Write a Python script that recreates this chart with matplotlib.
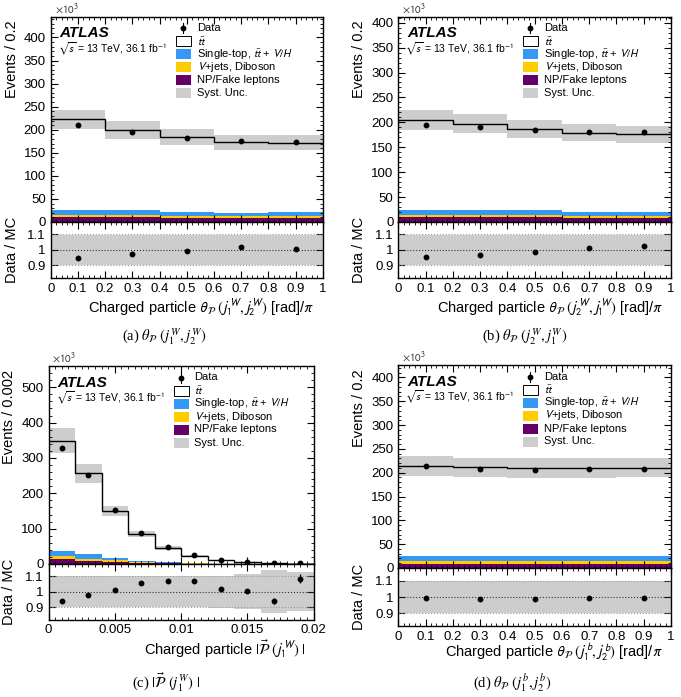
import numpy as np
import matplotlib
matplotlib.use("Agg")
import matplotlib.pyplot as plt
from matplotlib.patches import Rectangle
from matplotlib.ticker import MultipleLocator, FuncFormatter

plt.rcParams['font.family'] = ['Liberation Sans', 'DejaVu Sans']
plt.rcParams['mathtext.fontset'] = 'stixsans'

W, H = 681, 697

# ---- (a) theta_P(j1W, j2W) ----
a_edges = [0.0, 0.2, 0.4, 0.6, 0.8, 1.0]
a_ttbar = [195.9, 174.8, 162.6, 153.0, 150.2]
a_stop = [10.7, 10.0, 7.8, 7.1, 7.8]
a_vjets = [5.0, 5.0, 4.3, 3.6, 4.3]
a_fake = [10.7, 10.0, 9.3, 9.3, 9.3]
a_data = [210.6, 194.0, 182.5, 176.0, 173.0]
a_syst = [0.095, 0.095, 0.095, 0.095, 0.095]

# ---- (b) theta_P(j2W, j1W) ----
b_edges = [0.0, 0.2, 0.4, 0.6, 0.8, 1.0]
b_ttbar = [180.1, 172.3, 164.0, 159.3, 156.1]
b_stop = [10.0, 10.0, 9.3, 7.5, 7.5]
b_vjets = [4.7, 4.5, 4.5, 3.5, 3.5]
b_fake = [10.0, 10.0, 9.5, 9.0, 9.0]
b_data = [195.4, 190.8, 184.1, 181.3, 180.1]
b_syst = [0.097, 0.097, 0.097, 0.097, 0.097]

# ---- (c) |P(j1W)| ----
c_edges = [0.0, 0.002, 0.004, 0.006, 0.008, 0.010, 0.012, 0.014, 0.016, 0.018, 0.020]
c_ttbar = [311.5, 229.0, 132.5, 74.3, 40.5, 21.2, 10.3, 5.2, 2.75, 1.28]
c_stop = [15.5, 12.5, 7.0, 3.0, 1.5, 0.8, 0.4, 0.2, 0.1, 0.05]
c_vjets = [8.0, 5.0, 4.0, 2.7, 1.0, 0.5, 0.3, 0.1, 0.05, 0.02]
c_fake = [14.0, 9.5, 6.5, 4.0, 2.0, 1.0, 0.5, 0.3, 0.1, 0.05]
c_data = [327.4, 251.4, 151.7, 88.6, 48.2, 25.1, 11.7, 5.84, 2.82, 1.52]
c_syst = [0.1, 0.1, 0.1, 0.1, 0.1, 0.1, 0.105, 0.115, 0.14, 0.125]

# ---- (d) theta_P(j1b, j2b) ----
d_edges = [0.0, 0.2, 0.4, 0.6, 0.8, 1.0]
d_ttbar = [189.4, 186.2, 185.1, 185.1, 185.8]
d_stop = [11.3, 11.0, 11.0, 11.0, 11.0]
d_vjets = [5.3, 5.3, 5.0, 5.0, 5.0]
d_fake = [8.7, 8.7, 8.7, 8.7, 8.7]
d_data = [214.0, 208.0, 206.7, 208.0, 208.6]
d_syst = [0.097, 0.097, 0.097, 0.097, 0.097]

legend_labels = ['Data', r'$t\bar{t}$', r'Single-top, $t\bar{t}$ + $V/H$',
                 r'$V$+jets, Diboson', 'NP/Fake leptons', 'Syst. Unc.']

C_STOP = '#3399f5'
C_VJ = '#ffcc00'
C_FAKE = '#660066'
C_BAND = '#cdcdcd'


def box(l, t, r, b):
    return [l / W, 1 - b / H, (r - l) / W, (b - t) / H]


def fmt(v, pos):
    return '%g' % v


def style(ax, xmaj, xmin, ymaj=None, ymin=None):
    ax.tick_params(which='both', direction='in', top=True, right=True, labelsize=9.5)
    ax.tick_params(which='major', length=5, width=0.8)
    ax.tick_params(which='minor', length=2.5, width=0.6)
    ax.xaxis.set_major_locator(MultipleLocator(xmaj))
    ax.xaxis.set_minor_locator(MultipleLocator(xmin))
    if ymaj is not None:
        ax.yaxis.set_major_locator(MultipleLocator(ymaj))
    if ymin is not None:
        ax.yaxis.set_minor_locator(MultipleLocator(ymin))
    for s in ax.spines.values():
        s.set_linewidth(1.0)


def legend(ax, wpx, hpx, top0, step):
    colors = [None, 'white', C_STOP, C_VJ, C_FAKE, C_BAND]
    for i, lab in enumerate(legend_labels):
        yc = 1 - (top0 + step * i) / hpx
        if i == 0:
            ax.plot([132 / wpx], [yc], 'o', color='black', ms=3.2, transform=ax.transAxes, clip_on=False)
            ax.plot([132 / wpx, 132 / wpx], [yc - 5 / hpx, yc + 5 / hpx], color='black', lw=0.8,
                    transform=ax.transAxes)
        else:
            ec = 'black' if i == 1 else 'none'
            ax.add_patch(Rectangle((125 / wpx, yc - 5 / hpx), 15 / wpx, 10 / hpx, transform=ax.transAxes,
                                   facecolor=colors[i], edgecolor=ec, lw=0.7))
        ax.text(146 / wpx, yc, lab, transform=ax.transAxes, va='center', ha='left', fontsize=8)


def panel(p, edges, ttbar, stop, vjets, fake, data, syst, ylim, ymaj, ymin, xmaj, xmin,
          ylabel, xlabel, caption, cap_xy, xl_y):
    l, t, m, b, r = p
    edges = np.array(edges)
    fake = np.array(fake)
    vjets = np.array(vjets)
    stop = np.array(stop)
    ttbar = np.array(ttbar)
    data = np.array(data)
    syst = np.array(syst)
    centers = 0.5 * (edges[1:] + edges[:-1])
    total = fake + vjets + stop + ttbar
    err = np.sqrt(data * 1e3) / 1e3

    ax = fig.add_axes(box(l, t, r, m))
    rx = fig.add_axes(box(l, m, r, b), sharex=ax)
    wpx, hpx = r - l, m - t

    # stack
    lo = np.zeros(len(fake))
    for comp, col in [(fake, C_FAKE), (vjets, C_VJ), (stop, C_STOP), (ttbar, 'white')]:
        ax.stairs(lo + comp, edges, baseline=lo, fill=True, color=col, lw=0)
        lo = lo + comp
    ax.stairs(total * (1 + syst), edges, baseline=total * (1 - syst), fill=True, color=C_BAND, lw=0)
    ax.stairs(total, edges, baseline=None, color='black', lw=1.0)
    ax.errorbar(centers, data, yerr=err, fmt='o', color='black', ms=3.2, elinewidth=0.9, capsize=0)
    ax.set_xlim(edges[0], edges[-1])
    ax.set_ylim(*ylim)
    style(ax, xmaj, xmin, ymaj, ymin)
    ax.tick_params(labelbottom=False)
    ax.set_ylabel(ylabel, fontsize=10.5, loc='top')
    ax.yaxis.set_label_coords(-32 / wpx, 1 - 4 / hpx)
    ax.text(4 / wpx, 1 + 1 / hpx, r'$\times10^{3}$', transform=ax.transAxes, fontsize=8,
            va='bottom', ha='left', color='#333333')
    ax.text(9 / wpx, 1 - 16.7 / hpx, 'ATLAS', transform=ax.transAxes, fontsize=11,
            fontweight='bold', fontstyle='italic', va='center')
    ax.text(7 / wpx, 1 - 31.5 / hpx, r'$\sqrt{s}$ = 13 TeV, 36.1 fb$^{-1}$', transform=ax.transAxes,
            fontsize=7.5, va='center')
    legend(ax, wpx, hpx, 11.5, 13.0)

    # ratio
    rx.stairs(1 + syst, edges, baseline=1 - syst, fill=True, color=C_BAND, lw=0)
    for yv in (0.9, 1.1):
        rx.axhline(yv, color='#999999', ls=':', lw=0.8)
    rx.axhline(1.0, color='#333333', ls=':', lw=0.8)
    rx.errorbar(centers, data / total, yerr=err / total, fmt='o', color='black', ms=3.2,
                elinewidth=0.9, capsize=0)
    rx.set_ylim(0.82, 1.18)
    style(rx, xmaj, xmin)
    rx.set_yticks([0.9, 1.0, 1.1])
    rx.yaxis.set_major_formatter(FuncFormatter(fmt))
    rx.xaxis.set_major_formatter(FuncFormatter(fmt))
    rx.set_ylabel('Data / MC', fontsize=10.5)
    rx.yaxis.set_label_coords(-32 / wpx, 0.5)
    rx.set_xlabel(xlabel, fontsize=10.5, loc='right')
    rx.xaxis.set_label_coords(1 - 8 / wpx, xl_y)
    fig.text(cap_xy[0] / W, 1 - cap_xy[1] / H, caption, ha='center', va='center', fontsize=10.5,
             family=['Liberation Serif', 'DejaVu Serif'], math_fontfamily='stix')


fig = plt.figure(figsize=(W / 100, H / 100), dpi=100)

panel((50.7, 16.7, 222, 277.7, 322.7), a_edges, a_ttbar, a_stop, a_vjets, a_fake, a_data, a_syst,
      (0, 445), 50, 10, 0.1, 0.02, 'Events / 0.2',
      r'Charged particle $\theta_{\mathcal{P}}\ (j_1^W, j_2^W)$ [rad]/$\pi$',
      r'(a) $\theta_{\mathcal{P}}\ (j_1^W, j_2^W)$', (164, 337), -0.33)
panel((398.3, 16.7, 222, 277.7, 671), b_edges, b_ttbar, b_stop, b_vjets, b_fake, b_data, b_syst,
      (0, 412), 50, 10, 0.1, 0.02, 'Events / 0.2',
      r'Charged particle $\theta_{\mathcal{P}}\ (j_2^W, j_1^W)$ [rad]/$\pi$',
      r'(b) $\theta_{\mathcal{P}}\ (j_2^W, j_1^W)$', (525, 337), -0.33)
panel((48.5, 366, 564, 619.5, 313.5), c_edges, c_ttbar, c_stop, c_vjets, c_fake, c_data, c_syst,
      (0, 560), 100, 20, 0.005, 0.0005, 'Events / 0.002',
      r'Charged particle $|\vec{\mathcal{P}}\ (j_1^W)\ |$',
      r'(c) $|\vec{\mathcal{P}}\ (j_1^W)\ |$', (166, 682), -0.33)
panel((398.3, 365, 568, 626, 671), d_edges, d_ttbar, d_stop, d_vjets, d_fake, d_data, d_syst,
      (0, 426), 50, 10, 0.1, 0.02, 'Events / 0.2',
      r'Charged particle $\theta_{\mathcal{P}}\ (j_1^b, j_2^b)$ [rad]/$\pi$',
      r'(d) $\theta_{\mathcal{P}}\ (j_1^b, j_2^b)$', (512, 683), -0.28)

fig.savefig('out.png', dpi=100)
